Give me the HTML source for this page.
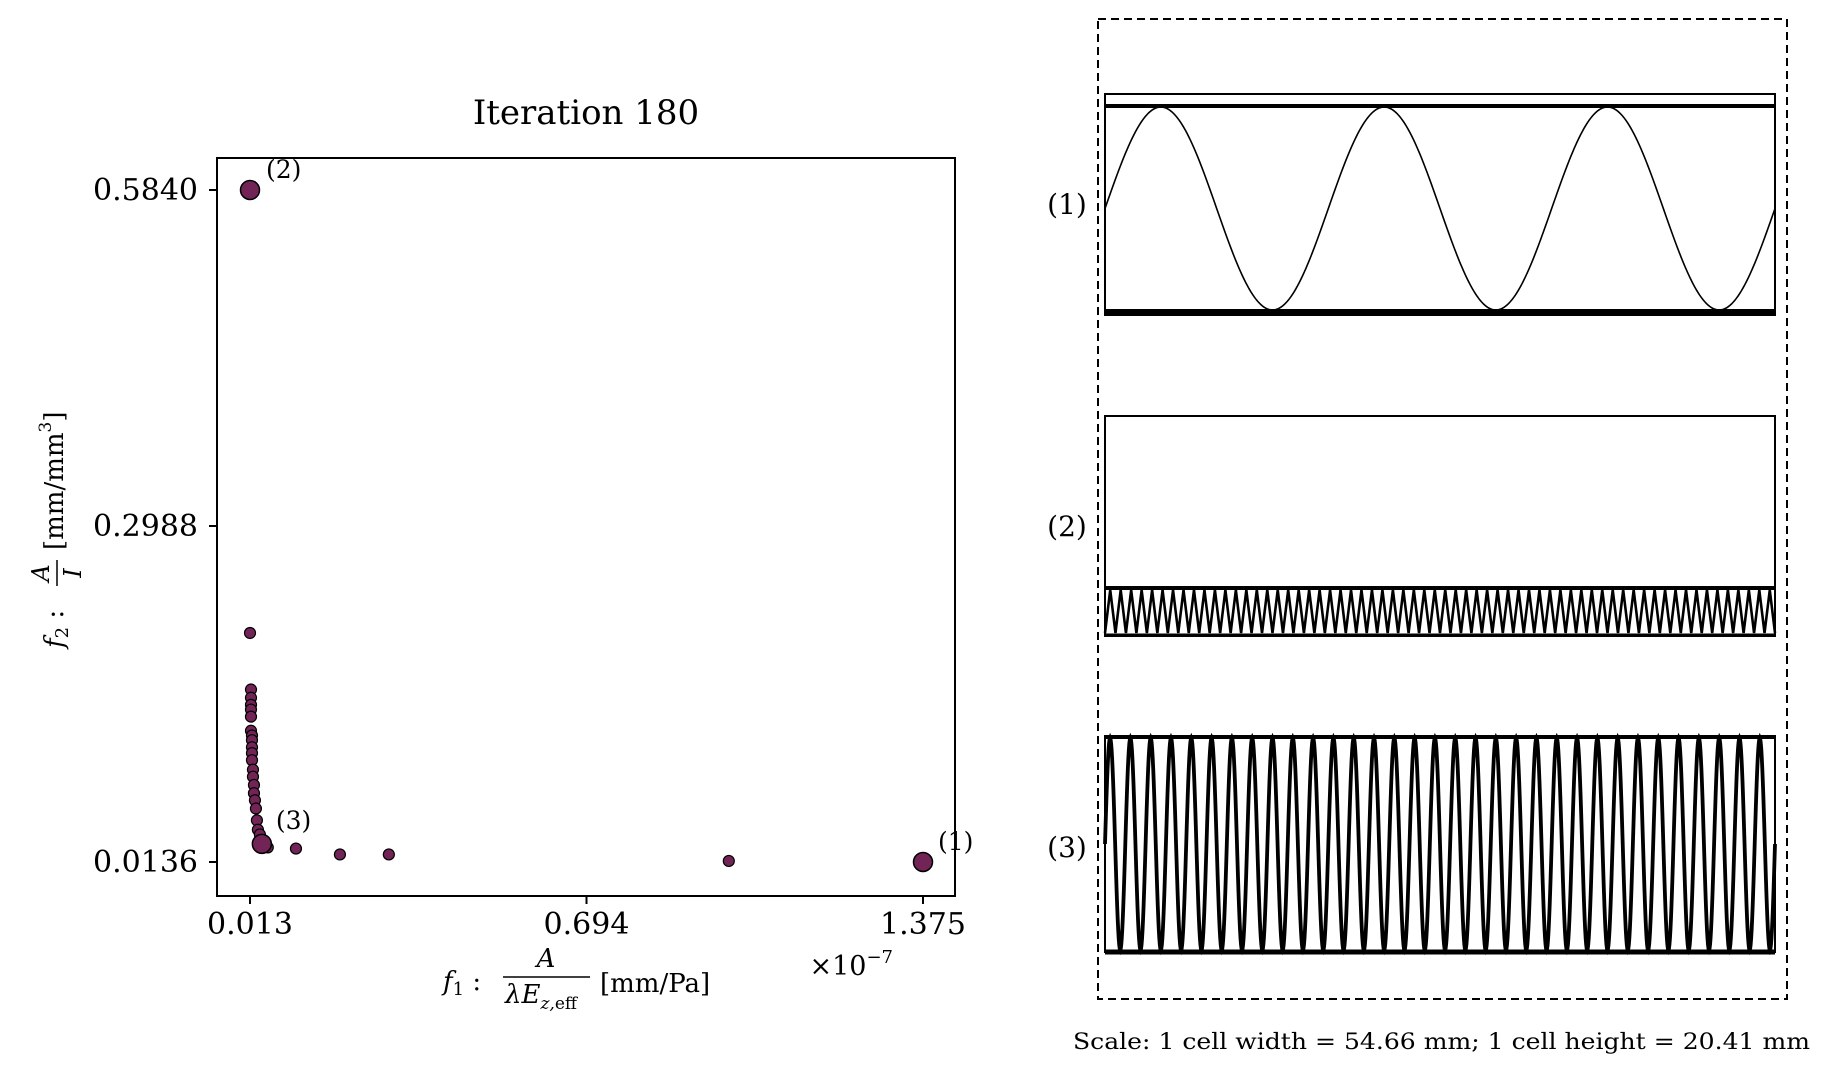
<!DOCTYPE html>
<html><head><meta charset="utf-8"><style>
body{margin:0;background:#fff;}
svg{display:block;font-family:"DejaVu Serif","Liberation Serif",serif;}
</style></head><body>
<svg id="fig" width="1822" height="1069" viewBox="0 0 1822 1069">
<rect width="1822" height="1069" fill="#fff"/>
<text x="586" y="124" font-size="34" text-anchor="middle">Iteration 180</text>
<g id="plot"></g>
<rect x="217" y="158" width="738" height="738" fill="none" stroke="#000" stroke-width="2"/>
<g font-style="italic">
<text x="443" y="990" font-size="26">f<tspan font-size="18" font-style="normal" dy="5">1</tspan><tspan dy="-5" font-style="normal"> :</tspan></text>
<text x="546" y="967" font-size="26" text-anchor="middle">A</text>
<line x1="503" y1="977" x2="590" y2="977" stroke="#000" stroke-width="1.5"/>
<text x="505" y="1003" font-size="26">λE<tspan font-size="17" dy="6">z,</tspan><tspan font-size="17" font-style="normal">eff</tspan></text>
<text x="600" y="992" font-size="26" font-style="normal">[mm/Pa]</text>
</g>
<text x="893" y="975" font-size="27" text-anchor="end">×10<tspan font-size="18" dy="-12">−7</tspan></text>
<g transform="translate(55,528) rotate(-90)">
<text x="-120" y="8" font-size="26" font-style="italic">f<tspan font-size="18" font-style="normal" dy="5">2</tspan><tspan dy="-5" font-style="normal"> :</tspan></text>
<text x="-45" y="-6" font-size="24" font-style="italic" text-anchor="middle">A</text>
<line x1="-58" y1="2" x2="-32" y2="2" stroke="#000" stroke-width="1.5"/>
<text x="-45" y="26" font-size="24" font-style="italic" text-anchor="middle">I</text>
<text x="-22" y="8" font-size="26">[mm/mm<tspan font-size="17" dy="-12">3</tspan><tspan dy="12">]</tspan></text>
</g>
<rect x="1098" y="19" width="689" height="980" fill="none" stroke="#000" stroke-width="2" stroke-dasharray="8,5"/>
<g id="cells"></g>
<text x="1067" y="214" font-size="28" text-anchor="middle">(1)</text>
<text x="1067" y="536" font-size="28" text-anchor="middle">(2)</text>
<text x="1067" y="857" font-size="28" text-anchor="middle">(3)</text>
<text x="1073" y="1049" font-size="22" textLength="737" lengthAdjust="spacingAndGlyphs">Scale: 1 cell width = 54.66 mm; 1 cell height = 20.41 mm</text>
</svg>
<script>
const NS="http://www.w3.org/2000/svg";
const xTicks=[0.013,0.694,1.375];
const xTickLabels=["0.013","0.694","1.375"];
const yTicks=[0.0136,0.2988,0.5840];
const yTickLabels=["0.0136","0.2988","0.5840"];
const f1Values=[0.013,0.015,0.015,0.015,0.015,0.015,0.015,0.017,0.017,0.017,0.017,0.017,0.019,0.019,0.021,0.021,0.023,0.025,0.027,0.029,0.033,0.049,0.106,0.195,0.294,0.982];
const f2Values=[0.208,0.160,0.153,0.147,0.143,0.137,0.125,0.121,0.117,0.111,0.106,0.100,0.092,0.086,0.079,0.072,0.066,0.059,0.049,0.041,0.037,0.026,0.025,0.020,0.020,0.0145];
const highlightF1=[1.375,0.013,0.037];
const highlightF2=[0.0136,0.584,0.029];
const highlightLabels=["(1)","(2)","(3)"];
const cellPeriods=[3,64,33];

const X=v=>250+(v-0.013)/(1.375-0.013)*673;
const Y=v=>862-(v-0.0136)/(0.584-0.0136)*672;
function mk(tag,attrs,parent){const e=document.createElementNS(NS,tag);for(const k in attrs)e.setAttribute(k,attrs[k]);parent.appendChild(e);return e;}
const plot=document.getElementById('plot');
xTicks.forEach((t,i)=>{
  const l=mk('line',{x1:X(t),x2:X(t),y1:896,y2:904,stroke:'#000','stroke-width':2},plot);
  
  
  const tx=mk('text',{x:X(t),y:934,'font-size':30,'text-anchor':'middle'},plot);
  tx.textContent=xTickLabels[i];
  
  
});
yTicks.forEach((t,i)=>{
  const l=mk('line',{x1:209,x2:217,y1:Y(t),y2:Y(t),stroke:'#000','stroke-width':2},plot);
  
  
  const tx=mk('text',{x:198,y:Y(t)+10,'font-size':30,'text-anchor':'end'},plot);
  tx.textContent=yTickLabels[i];
  
  
});
f1Values.forEach((v,i)=>{
  const c=mk('circle',{cx:X(v),cy:Y(f2Values[i]),r:5.5,fill:'#722457',stroke:'#000','stroke-width':1.2},plot);
  
  
});
const lblOff=[[15,-12],[16,-12],[14,-15]];
highlightF1.forEach((v,i)=>{
  const c=mk('circle',{cx:X(v),cy:Y(highlightF2[i]),r:9.5,fill:'#722457',stroke:'#000','stroke-width':1.5},plot);
  
  
  const t=mk('text',{x:X(v)+lblOff[i][0],y:Y(highlightF2[i])+lblOff[i][1],'font-size':25},plot);
  t.textContent=highlightLabels[i];
  
  
});
const cells=document.getElementById('cells');
const L=1105,R=1775;
function sinePath(n,y0,y1,zig){let d='';const N=zig?n*2:Math.max(400,n*40);
 for(let k=0;k<=N;k++){const x=L+(R-L)*k/N;let y;
  if(zig){y=(k%2===0)?y1:y0;}else{y=(y0+y1)/2-(y1-y0)/2*Math.sin(2*Math.PI*n*k/N);}
  d+=(k?'L':'M')+x.toFixed(2)+' '+y.toFixed(2);}return d;}
let r=mk('rect',{x:L,y:94,width:R-L,height:221,fill:'none',stroke:'#000','stroke-width':2},cells);

mk('line',{x1:L,x2:R,y1:106,y2:106,stroke:'#000','stroke-width':4},cells);
mk('line',{x1:L,x2:R,y1:312,y2:312,stroke:'#000','stroke-width':6},cells);
let p=mk('path',{d:sinePath(cellPeriods[0],107,310,false),fill:'none',stroke:'#000','stroke-width':1.6},cells);

r=mk('rect',{x:L,y:416,width:R-L,height:220,fill:'none',stroke:'#000','stroke-width':2},cells);

mk('line',{x1:L,x2:R,y1:588,y2:588,stroke:'#000','stroke-width':4},cells);
mk('line',{x1:L,x2:R,y1:635,y2:635,stroke:'#000','stroke-width':3},cells);
p=mk('path',{d:sinePath(cellPeriods[1],590,633,true),fill:'none',stroke:'#000','stroke-width':2.6},cells);

r=mk('rect',{x:L,y:736,width:R-L,height:216,fill:'none',stroke:'#000','stroke-width':2},cells);

mk('line',{x1:L,x2:R,y1:737,y2:737,stroke:'#000','stroke-width':4},cells);
mk('line',{x1:L,x2:R,y1:952,y2:952,stroke:'#000','stroke-width':5},cells);
p=mk('path',{d:sinePath(cellPeriods[2],738,950,false),fill:'none',stroke:'#000','stroke-width':3.8},cells);

</script>
</body></html>
